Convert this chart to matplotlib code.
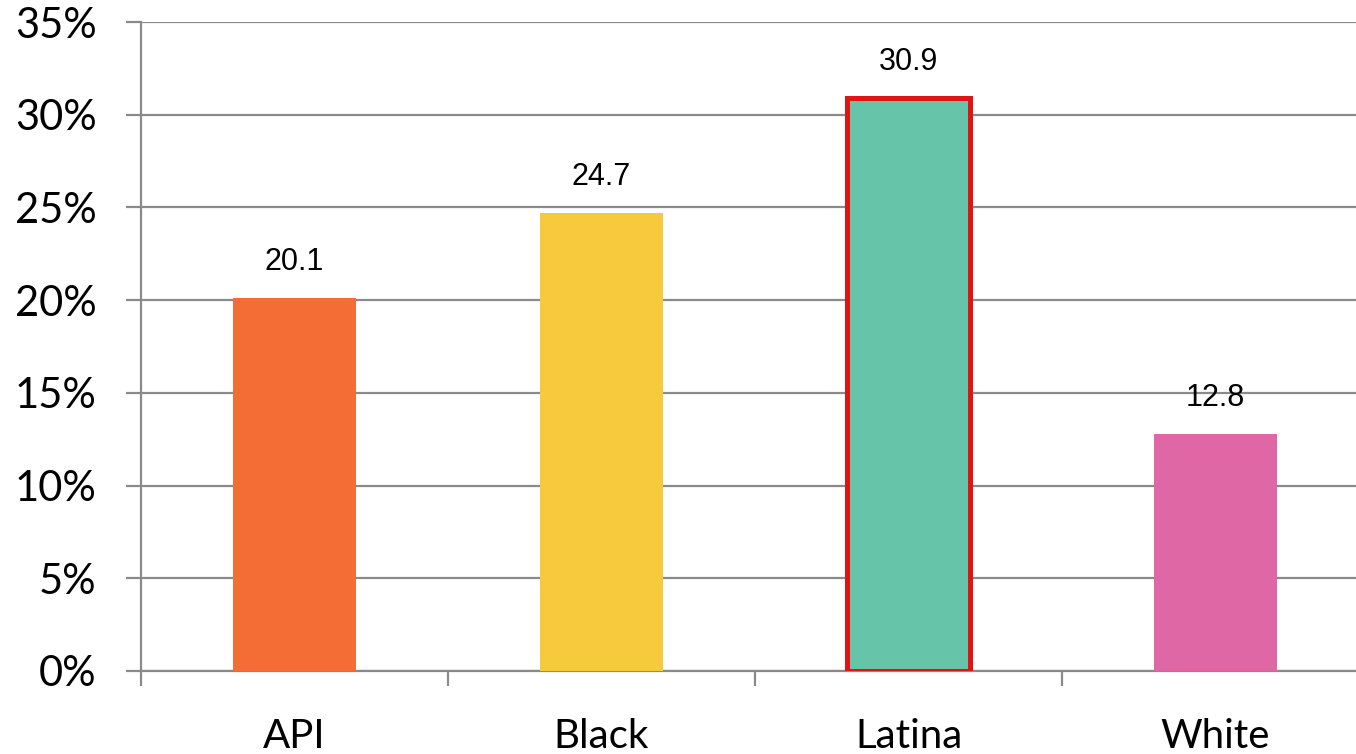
import matplotlib

matplotlib.use("Agg")
import matplotlib.pyplot as plt  # noqa: E402
import numpy as np  # noqa: E402
from matplotlib.ticker import FuncFormatter, MultipleLocator  # noqa: E402

groups = ["API", "Black", "Latina", "White"]
values = [20.1, 24.7, 30.9, 12.8]
colors = ["#F36D35", "#F7C93C", "#66C4A9", "#DF67A5"]
highlight = "Latina"

GRID = "#8A8A8A"

fig = plt.figure(figsize=(13.56, 7.54), dpi=100)
ax = fig.add_axes([141 / 1356, 83 / 754, 1228 / 1356, 649 / 754])

x = np.arange(len(groups))
bars = ax.bar(x, values, width=0.4, color=colors, zorder=3)
for b, g in zip(bars, groups):
    if g == highlight:
        b.set_edgecolor("#E01414")
        b.set_linewidth(3.6)

for xi, v in zip(x, values):
    ax.annotate(f"{v}", (xi, v), xytext=(0, 15), textcoords="offset points",
                ha="center", va="bottom", fontsize=22,
                family=["Liberation Sans Narrow", "Liberation Sans"])

ax.set_xlim(-0.5, len(groups) - 0.5)
ax.set_ylim(0, 35)
ax.yaxis.set_major_locator(MultipleLocator(5))
ax.yaxis.set_major_formatter(FuncFormatter(lambda v, _: f"{v:.0f}%"))
ax.grid(axis="y", color=GRID, lw=1.6, zorder=0)

ax.set_xticks(x)
ax.set_xticklabels(groups)
ax.set_xticks(np.arange(len(groups) + 1) - 0.5, minor=True)
ax.tick_params(axis="x", which="major", length=0, pad=34, labelsize=29)
ax.tick_params(axis="x", which="minor", length=11, width=1.6, color=GRID)
ax.tick_params(axis="y", length=11, width=1.6, color=GRID, pad=21, labelsize=30)
for lab in ax.get_xticklabels() + ax.get_yticklabels():
    lab.set_family("Lato")

for s in ("top", "right"):
    ax.spines[s].set_visible(False)
for s in ("left", "bottom"):
    ax.spines[s].set_color(GRID)
    ax.spines[s].set_linewidth(1.6)

fig.savefig("out.png", dpi=100)
